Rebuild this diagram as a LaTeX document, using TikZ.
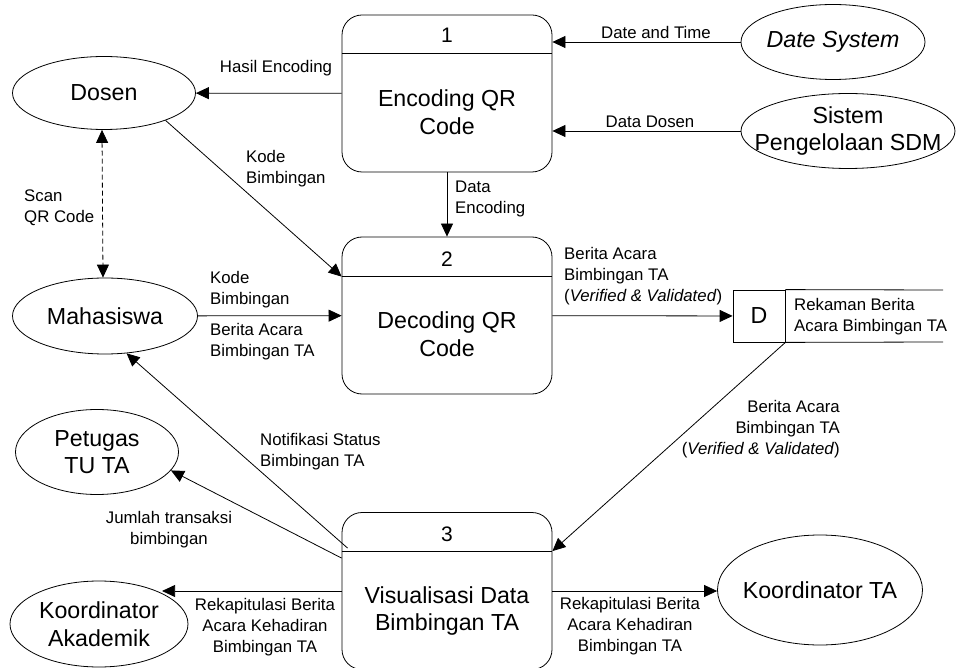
\documentclass[tikz,border=0pt]{standalone}
\usepackage{fontspec}
\setmainfont{Liberation Sans}
\usetikzlibrary{arrows.meta,shapes.geometric}
\tikzset{
  ent/.style={draw,ellipse,line width=0.8pt,inner sep=0pt},
  etxt/.style={align=center,font=\fontsize{23.2}{27.5}\selectfont,inner sep=0pt},
  proc/.style={draw,rectangle,rounded corners=20pt,line width=0.8pt,minimum width=210pt,minimum height=157pt,inner sep=0pt},
  ptitle/.style={align=center,font=\fontsize{23.2}{27.5}\selectfont,inner sep=0pt},
  pnum/.style={font=\fontsize{21}{25}\selectfont,inner sep=0pt},
  lbl/.style={font=\fontsize{16.8}{20.8}\selectfont,inner sep=0pt},
  flow/.style={line width=0.8pt,-{Triangle[length=13pt,width=12pt]}},
  dflow/.style={line width=0.8pt,dash pattern=on 5pt off 3pt,{Triangle[length=13pt,width=12pt]}-{Triangle[length=13pt,width=12pt]}},
  dsline/.style={line width=0.8pt}
}
\begin{document}
\begin{tikzpicture}[x=1pt,y=-1pt]
\useasboundingbox (0,0) rectangle (956,668);
\begin{scope}
\clip (0,0) rectangle (956,668);
% processes
\node[proc] (p1) at (447,93.5) {};
\node[proc] (p2) at (447,315.5) {};
\node[proc] (p3) at (447,591) {};
\coordinate (p1dl) at ([yshift=-39pt]p1.north west);
\coordinate (p1dr) at ([yshift=-39pt]p1.north east);
\coordinate (p2dl) at ([yshift=-40pt]p2.north west);
\coordinate (p2dr) at ([yshift=-40pt]p2.north east);
\coordinate (p3dl) at ([yshift=-39pt]p3.north west);
\coordinate (p3dr) at ([yshift=-39pt]p3.north east);
\draw[dsline] (p1dl) -- (p1dr);
\draw[dsline] (p2dl) -- (p2dr);
\draw[dsline] (p3dl) -- (p3dr);
\node[pnum] (n1) at (447,35) {1};
\node[pnum] (n2) at (447,259) {2};
\node[pnum] (n3) at (447,534) {3};
\node[ptitle] (t1) at (447,112) {Encoding QR\\Code};
\node[ptitle] (t2) at (447,334) {Decoding QR\\Code};
\node[ptitle] (t3) at (447,611) {Visualisasi Data\\Bimbingan TA};
% entities
\node[ent,minimum width=183pt,minimum height=73pt,label={[etxt]center:Dosen}] (dosen) at (104,93) {};
\node[ent,minimum width=185pt,minimum height=76pt,label={[etxt]center:Mahasiswa}] (maha) at (105,316) {};
\node[ent,minimum width=163pt,minimum height=85pt,label={[etxt]center:{Petugas\\TU TA}}] (pet) at (97,452) {};
\node[ent,minimum width=178pt,minimum height=86pt,label={[etxt]center:{Koordinator\\Akademik}}] (kak) at (99,624) {};
\node[ent,minimum width=184pt,minimum height=75pt,label={[etxt,font=\fontsize{23.2}{27.5}\selectfont\itshape]center:Date System}] (ds) at (833,42) {};
\node[ent,minimum width=214pt,minimum height=75pt,label={[etxt]center:{Sistem\\Pengelolaan SDM}}] (sdm) at (848,131) {};
\node[ent,minimum width=205pt,minimum height=110pt,label={[etxt]center:Koordinator TA}] (kta) at (820,590) {};
% data store
\node[draw,rectangle,line width=0.8pt,minimum width=52pt,minimum height=52pt,inner sep=0pt,font=\fontsize{23.2}{27.5}\selectfont] (dbox) at (759,316) {D};
\coordinate (dsend1) at (943,290);
\coordinate (dsend2) at (943,342);
\draw[dsline] (dbox.north east) -- (dsend1);
\draw[dsline] (dbox.south east) -- (dsend2);
\node[lbl,anchor=west,align=left] (dslbl) at (794,317) {Rekaman Berita\\Acara Bimbingan TA};
% flows
\draw[flow] (p1) -- (dosen);
\draw[flow] (ds) -- (ds -| p1.east);
\draw[flow] (sdm) -- (sdm -| p1.east);
\draw[flow] (p1) -- (p2);
\draw[flow] (dosen.-24) -- (p2dl);
\draw[dflow] ([xshift=-2pt]dosen.south) -- ([xshift=-2pt]maha.north);
\draw[flow] (maha) -- (p2);
\draw[flow] (p2) -- (dbox);
\draw[flow] (dbox.south east) -- (p3dr);
\coordinate (p3n) at ([xshift=6pt,yshift=3pt]p3dl);
\coordinate (p3j) at ([yshift=-7pt]p3dl);
\draw[flow] (p3n) -- (maha.-60);
\draw[flow] (p3j) -- (pet.-14);
\draw[flow] (p3.west) -- (p3.west -| kak.26);
\draw[flow] (p3.east) -- (p3.east -| kta.west);
\end{scope}
% labels
\node[lbl] (l1) at (276,68) {Hasil Encoding};
\node[lbl] (l2) at (656,32) {Date and Time};
\node[lbl] (l3) at (650,122) {Data Dosen};
\node[lbl,anchor=west,align=left] (l4) at (455,199) {Data\\Encoding};
\node[lbl,anchor=west,align=left] (l5) at (246,169) {Kode\\Bimbingan};
\node[lbl,anchor=west,align=left] (l6) at (24,208) {Scan\\QR Code};
\node[lbl,anchor=west,align=left] (l7) at (210,290) {Kode\\Bimbingan};
\node[lbl,anchor=west,align=left] (l8) at (210,342) {Berita Acara\\Bimbingan TA};
\node[lbl,anchor=west,align=left] (l9) at (564,276) {Berita Acara\\Bimbingan TA\\(\textit{Verified \& Validated})};
\node[lbl,anchor=east,align=right] (l10) at (840,429) {Berita Acara\\Bimbingan TA\\(\textit{Verified \& Validated})};
\node[lbl,anchor=west,align=left] (l11) at (260,452) {Notifikasi Status\\Bimbingan TA};
\node[lbl,align=center] (l12) at (169,530) {Jumlah transaksi\\bimbingan};
\node[lbl,align=center] (l13) at (265,627) {Rekapitulasi Berita\\Acara Kehadiran\\Bimbingan TA};
\node[lbl,align=center] (l14) at (630,626) {Rekapitulasi Berita\\Acara Kehadiran\\Bimbingan TA};
\end{tikzpicture}
\end{document}
